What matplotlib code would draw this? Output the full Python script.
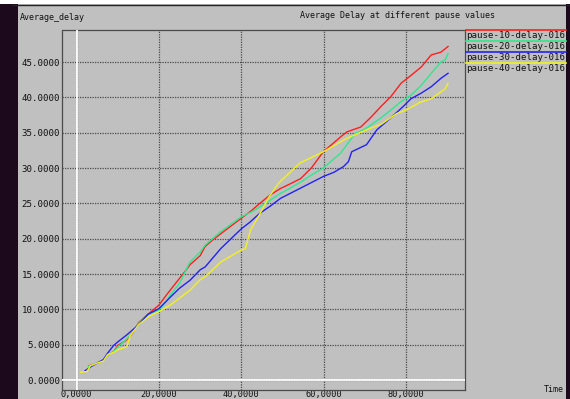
import matplotlib
matplotlib.use("Agg")
import matplotlib.pyplot as plt
from matplotlib.lines import Line2D
from matplotlib.patches import Rectangle

# ---- data -------------------------------------------------------------
series_names = ["pause-10-delay-016", "pause-20-delay-016",
                "pause-30-delay-016", "pause-40-delay-016"]
series_colors = ["#ff1e1e", "#2fe88e", "#2222f2", "#f4f020"]

red_x = [3000, 5000, 6500, 7500, 9000, 10000, 12000, 13500, 15000, 17300,
         20000, 21500, 22700, 25000, 26500, 27500, 30000, 31200, 33000, 35000,
         37500, 40000, 42500, 44500, 47000, 49500, 52000, 54400, 57000, 59900,
         61700, 64100, 65600, 67500, 69000, 71500, 73900, 76300, 78800, 81200,
         83700, 86100, 88500, 90200]
red_y = [2.0, 2.4, 2.8, 3.6, 4.0, 4.9, 5.6, 6.6, 8.1, 9.3,
         10.6, 11.8, 12.7, 14.4, 15.5, 16.3, 17.6, 18.9, 19.8, 20.7,
         21.8, 22.9, 24.0, 25.0, 26.2, 27.1, 27.8, 28.5, 30.0, 32.3,
         33.2, 34.4, 35.1, 35.5, 35.8, 37.2, 38.7, 40.1, 42.0, 43.1,
         44.3, 46.0, 46.4, 47.2]

green_x = [2800, 5000, 6500, 7500, 9000, 10000, 12000, 13500, 15000, 17300,
           20000, 21500, 22700, 25000, 27500, 30000, 31200, 35000, 40000, 42500,
           44500, 49500, 54400, 57000, 59900, 61700, 64100, 66000, 67700, 70000,
           73700, 76300, 78800, 81200, 83700, 86100, 88500, 89500, 90200]
green_y = [1.9, 2.4, 2.8, 3.6, 4.0, 4.7, 5.7, 6.8, 8.0, 9.3,
           9.9, 11.0, 12.0, 13.7, 16.7, 18.1, 19.1, 21.0, 23.1, 23.8,
           24.5, 26.4, 28.0, 29.0, 30.0, 30.9, 32.1, 33.6, 34.9, 35.5,
           37.0, 38.2, 39.4, 40.3, 41.7, 43.4, 45.0, 45.3, 46.2]

blue_x = [2000, 3500, 5000, 6500, 7500, 9000, 10000, 12200, 15000, 17300,
          20000, 22700, 25000, 27500, 30000, 31200, 35000, 37500, 40000, 42000,
          44500, 47000, 49500, 54200, 59900, 62500, 64800, 66000, 66800, 70400,
          72900, 76100, 79300, 81200, 83700, 86100, 88500, 90200]
blue_y = [1.3, 1.9, 2.4, 2.9, 3.8, 4.9, 5.4, 6.4, 7.8, 9.3,
          10.1, 11.7, 13.0, 14.1, 15.6, 16.0, 18.6, 20.0, 21.4, 22.3,
          23.6, 24.6, 25.7, 27.1, 28.8, 29.4, 30.2, 30.9, 32.3, 33.3,
          35.4, 37.0, 38.7, 39.8, 40.6, 41.5, 42.7, 43.4]

yellow_x = [950, 2500, 3300, 5000, 6500, 7500, 9000, 10000, 12200, 13000,
            15000, 17300, 20000, 22700, 25000, 27500, 30000, 31200, 35000, 40000,
            41000, 42200, 44300, 46700, 49100, 54200, 59900, 62000, 65600, 71200,
            74000, 77700, 80000, 83400, 86100, 88500, 89500, 90200]
yellow_y = [1.1, 1.2, 2.0, 2.4, 2.7, 3.6, 3.9, 4.3, 4.7, 6.3,
            7.8, 8.9, 9.7, 10.6, 11.6, 12.7, 14.2, 14.6, 16.7, 18.4,
            18.6, 21.2, 23.3, 25.9, 27.9, 30.7, 32.3, 33.0, 34.2, 35.6,
            36.2, 37.7, 38.2, 39.3, 39.8, 40.8, 41.2, 42.0]

x_ticks = [0, 20000, 40000, 60000, 80000]
x_tick_labels = ["0,0000", "20,0000", "40,0000", "60,0000", "80,0000"]
y_ticks = [0, 5, 10, 15, 20, 25, 30, 35, 40, 45]
y_tick_labels = ["%.4f" % v for v in y_ticks]

# ---- figure -----------------------------------------------------------
W, H = 570, 399
BG = "#c0c0c0"
GRID = "#4a4a4a"
MONO = "DejaVu Sans Mono"

fig = plt.figure(figsize=(W / 100, H / 100), dpi=100, facecolor=BG)


def fx(px):
    return px / W


def fy(py):
    return 1 - py / H


# window frame around the plot window
fig.patches.append(Rectangle((0, fy(4)), 1, 4 / H, transform=fig.transFigure,
                             facecolor="white", edgecolor="none", zorder=0))
fig.patches.append(Rectangle((0, 0), fx(18), fy(4), transform=fig.transFigure,
                             facecolor="#1c0a1c", edgecolor="none", zorder=0))
fig.patches.append(Rectangle((fx(566), 0), fx(4), fy(4), transform=fig.transFigure,
                             facecolor="#1c0a1c", edgecolor="none", zorder=0))
fig.lines.append(Line2D([fx(12), 1], [fy(4.5), fy(4.5)], transform=fig.transFigure,
                        color="#222222", lw=1.0))

ax = fig.add_axes([fx(62), fy(390), (465 - 62) / W, 360 / H])
ax.set_facecolor(BG)
ax.set_xlim(-3570, 94320)
ax.set_ylim(-1.415, 49.53)

for sp in ax.spines.values():
    sp.set_color(GRID)
    sp.set_linestyle((0, (1, 1)))
    sp.set_linewidth(0.9)

ax.set_xticks(x_ticks)
ax.set_xticklabels(x_tick_labels)
ax.set_yticks(y_ticks)
ax.set_yticklabels(y_tick_labels)
ax.tick_params(length=0, labelsize=6.6, labelcolor="#111111")
ax.tick_params(axis="y", pad=1.5)
ax.tick_params(axis="x", pad=0.2, labelsize=6.2)
for lab in ax.get_xticklabels() + ax.get_yticklabels():
    lab.set_family(MONO)

ax.grid(True, color=GRID, linestyle=(0, (1, 1)), linewidth=0.9, zorder=1)
# zero axes drawn as solid white lines over the grid
ax.axvline(0, color="white", lw=1.3, zorder=2.6)
ax.axhline(0, color="white", lw=1.3, zorder=2.6)

all_x = [red_x, green_x, blue_x, yellow_x]
all_y = [red_y, green_y, blue_y, yellow_y]
for xs, ys, c in zip(all_x, all_y, series_colors):
    ax.plot(xs, ys, color=c, lw=1.0, zorder=3)

# ---- labels -----------------------------------------------------------
fig.text(fx(20), fy(17), "Average_delay", family=MONO, fontsize=6.0,
         color="#111111", va="center", ha="left")
fig.text(fx(300), fy(15), "Average Delay at different pause values",
         family=MONO, fontsize=6.0, color="#111111", va="center", ha="left")
fig.text(fx(544), fy(389), "Time", family=MONO, fontsize=6.0,
         color="#111111", va="center", ha="left")

# ---- legend -----------------------------------------------------------
legend_line_y = [29.5, 41, 52.3, 63.3]
for name, c, ly in zip(series_names, series_colors, legend_line_y):
    fig.lines.append(Line2D([fx(466), fx(566)], [fy(ly), fy(ly)],
                            transform=fig.transFigure, color=c, lw=1.2))
    fig.text(fx(466), fy(ly + 5.5), name, family=MONO, fontsize=6.6,
             color="#111111", va="center", ha="left")

fig.savefig("out.png", dpi=100, facecolor=BG)
